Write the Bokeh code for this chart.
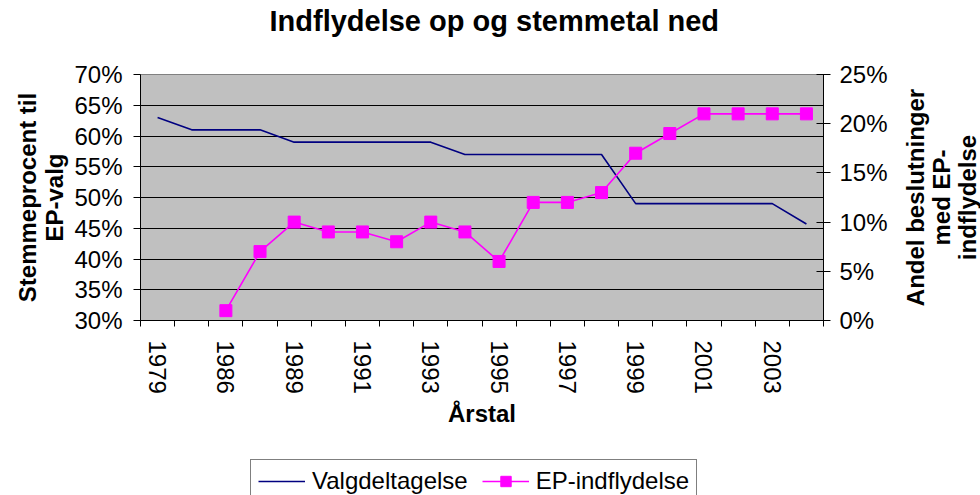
import math
from bokeh.plotting import figure
from bokeh.layouts import row, column
from bokeh.models import (Range1d, LinearAxis, FixedTicker, PrintfTickFormatter,
                          Legend, LegendItem, ColumnDataSource, Title)
from bokeh.core.properties import value
from bokeh.embed import file_html
from bokeh.resources import INLINE

# ---------------- data ----------------
years = ["1979", "1984", "1986", "1987", "1989", "1990", "1991", "1992", "1993", "1994",
         "1995", "1996", "1997", "1998", "1999", "2000", "2001", "2002", "2003", "2004"]
shown_years = ["1979", "1986", "1989", "1991", "1993", "1995", "1997", "1999", "2001", "2003"]
valgdeltagelse = [63, 61, 61, 61, 59, 59, 59, 59, 59, 57,
                  57, 57, 57, 57, 49, 49, 49, 49, 49, 45.7]
ep_indflydelse = [float("nan"), float("nan"), 1, 7, 10, 9, 9, 8, 10, 9,
                  6, 12, 12, 13, 17, 19, 21, 21, 21, 21]
left_ticks = [30, 35, 40, 45, 50, 55, 60, 65, 70]
right_ticks = [0, 5, 10, 15, 20, 25]
right_label_lines = ["Andel beslutninger", "med EP-", "indflydelse"]

FONT = "Liberation Sans"
NAVY = "#000080"
MAGENTA = "#FF00FF"

W_MAIN, H_MAIN = 900, 455
W_SIDE = 980 - W_MAIN
H_LEG = 495 - H_MAIN
FRAME_L, FRAME_R, FRAME_T, FRAME_B = 140, 823, 74, 320

xpos = list(range(1, len(years) + 1))
src = ColumnDataSource(dict(x=xpos, valg=valgdeltagelse, ep=ep_indflydelse))

p = figure(width=W_MAIN, height=H_MAIN, output_backend="svg", toolbar_location=None,
           x_range=Range1d(0.5, len(years) + 0.5),
           y_range=Range1d(left_ticks[0], left_ticks[-1]),
           min_border_left=FRAME_L, min_border_right=W_MAIN - FRAME_R,
           min_border_top=FRAME_T, min_border_bottom=H_MAIN - FRAME_B)
p.extra_y_ranges = {"ep": Range1d(right_ticks[0], right_ticks[-1])}

p.background_fill_color = "#C0C0C0"
p.border_fill_color = "white"
p.outline_line_color = "#808080"
p.outline_line_width = 1

# title (with an invisible spacer between it and the plot area)
spacer = Title(text=" ", text_font_size="1px", standoff=35)
p.add_layout(spacer, "above")
p.title.text = "Indflydelse op og stemmetal ned"
p.title.text_font = FONT
p.title.text_font_size = "29px"
p.title.text_font_style = "bold"
p.title.text_color = "black"
p.title.align = "left"
p.title.offset = 129
p.title.standoff = 0

# x axis
xa = p.xaxis[0]
label_pos = [years.index(y) + 1 for y in shown_years]
xa.ticker = FixedTicker(ticks=label_pos, minor_ticks=[i + 0.5 for i in range(len(years) + 1)])
xa.major_label_overrides = {pos: y for pos, y in zip(label_pos, shown_years)}
xa.major_label_orientation = -math.pi / 2
xa.major_label_text_font = FONT
xa.major_label_text_font_size = "24px"
xa.major_label_text_color = "black"
xa.major_label_standoff = 14
xa.major_tick_out = 0
xa.major_tick_in = 0
xa.minor_tick_out = 6
xa.minor_tick_in = 0
xa.minor_tick_line_color = "black"
xa.axis_line_color = "black"
xa.axis_label = "Årstal"
xa.axis_label_text_font = FONT
xa.axis_label_text_font_size = "24px"
xa.axis_label_text_font_style = "bold"
xa.axis_label_text_color = "black"
xa.axis_label_standoff = 3

# left y axis
ya = p.yaxis[0]
ya.ticker = FixedTicker(ticks=left_ticks)
ya.formatter = PrintfTickFormatter(format="%d%%")
ya.major_label_text_font = FONT
ya.major_label_text_font_size = "24px"
ya.major_label_text_color = "black"
ya.major_label_standoff = 11
ya.major_tick_out = 7
ya.major_tick_in = 0
ya.minor_tick_out = 0
ya.minor_tick_in = 0
ya.axis_line_color = "black"
ya.major_tick_line_color = "black"
ya.axis_label = "Stemmeprocent til\nEP-valg"
ya.axis_label_text_font = FONT
ya.axis_label_text_font_size = "24px"
ya.axis_label_text_font_style = "bold"
ya.axis_label_text_color = "black"
ya.axis_label_text_line_height = 1.0
ya.axis_label_standoff = 3

# right y axis (tick labels only; its title is drawn in the side strip)
ra = LinearAxis(y_range_name="ep", ticker=FixedTicker(ticks=right_ticks),
                formatter=PrintfTickFormatter(format="%d%%"))
ra.major_label_text_font = FONT
ra.major_label_text_font_size = "24px"
ra.major_label_text_color = "black"
ra.major_label_standoff = 9
ra.major_tick_out = 7
ra.major_tick_in = 7
ra.minor_tick_out = 0
ra.minor_tick_in = 0
ra.axis_line_color = "black"
ra.major_tick_line_color = "black"
p.add_layout(ra, "right")

# grid
p.xgrid.visible = False
p.ygrid.ticker = FixedTicker(ticks=left_ticks)
p.ygrid.grid_line_color = "black"
p.ygrid.grid_line_width = 1

# series
p.line("x", "valg", source=src, line_color=NAVY, line_width=1.6)
p.line("x", "ep", source=src, line_color=MAGENTA, line_width=1.6, y_range_name="ep")
p.scatter("x", "ep", source=src, marker="square", size=12, fill_color=MAGENTA,
          line_color=MAGENTA, y_range_name="ep")

# ---------------- side strip with the right axis title ----------------
side = figure(width=W_SIDE, height=H_MAIN, output_backend="svg", toolbar_location=None,
              x_range=Range1d(0, W_SIDE), y_range=Range1d(left_ticks[0], left_ticks[-1]),
              x_axis_type=None, y_axis_type=None,
              min_border_left=0, min_border_right=0,
              min_border_top=FRAME_T, min_border_bottom=H_MAIN - FRAME_B)
side.outline_line_color = None
side.background_fill_color = None
side.grid.visible = False
line_step = 26
side_src = ColumnDataSource(dict(
    x=[15 + i * line_step for i in range(len(right_label_lines))],
    y=[(left_ticks[0] + left_ticks[-1]) / 2] * len(right_label_lines),
    t=right_label_lines))
side.text("x", "y", text="t", source=side_src, angle=math.pi / 2,
          text_align="center", text_baseline="middle",
          text_font=value(FONT), text_font_size="24px", text_font_style="bold",
          text_color="black")

# ---------------- legend strip ----------------
leg = figure(width=W_MAIN, height=H_LEG, output_backend="svg", toolbar_location=None,
             x_range=Range1d(0, 1), y_range=Range1d(0, 1),
             x_axis_type=None, y_axis_type=None, min_border=0)
leg.outline_line_color = None
leg.background_fill_color = None
leg.grid.visible = False
dummy = ColumnDataSource(dict(x=[float("nan")], y=[float("nan")]))
d1 = leg.line("x", "y", source=dummy, line_color=NAVY, line_width=1.6)
d2 = leg.line("x", "y", source=dummy, line_color=MAGENTA, line_width=1.6)
d3 = leg.scatter("x", "y", source=dummy, marker="square", size=12,
                 fill_color=MAGENTA, line_color=MAGENTA)
legend = Legend(items=[LegendItem(label="Valgdeltagelse", renderers=[d1]),
                       LegendItem(label="EP-indflydelse", renderers=[d2, d3])],
                orientation="horizontal", location=(250 - FRAME_L, -8),
                label_text_font=FONT, label_text_font_size="24px", label_text_color="black",
                glyph_width=47, glyph_height=26, label_standoff=7, spacing=14,
                padding=7, margin=0, border_line_color="black", border_line_width=1,
                background_fill_color="white", background_fill_alpha=1.0)
leg.add_layout(legend)

layout = row(column(p, leg), side)
open("out.html", "w").write(file_html(layout, INLINE))
